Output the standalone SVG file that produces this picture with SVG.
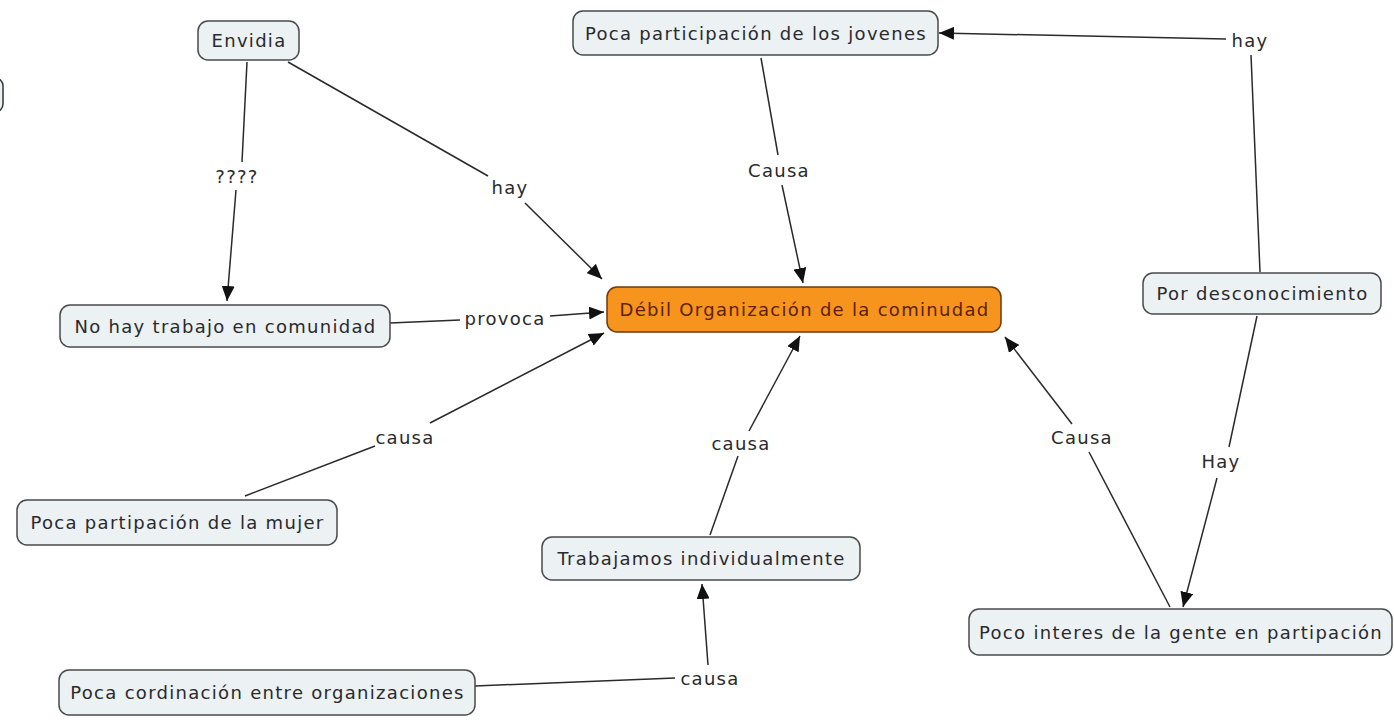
<svg xmlns="http://www.w3.org/2000/svg" width="1394" height="723" viewBox="0 0 1394 723">
<style>
.n rect{fill:#ecf1f4;stroke:#4a4a4a;stroke-width:1.5}
.n text,.l{font-family:"DejaVu Sans",Verdana,sans-serif;font-size:18px;letter-spacing:1.3px;fill:#2a2a2a;text-anchor:middle;dominant-baseline:central}
.c line{stroke:#2a2a2a;stroke-width:1.5;fill:none}
#n-debil rect{fill:#f7941d;stroke:#6b3a0a}
#n-debil text{fill:#5a2200}
</style>
<defs>
<marker id="a" viewBox="0 0 10 10" refX="10" refY="5" markerWidth="15" markerHeight="13" markerUnits="userSpaceOnUse" orient="auto" preserveAspectRatio="none"><path d="M0,0L10,5L0,10z" fill="#111"/></marker>
</defs>
<rect x="-100" y="78" width="103" height="34" rx="8" fill="#ecf1f4" stroke="#333" stroke-width="1.5"/>
<g class="c">
<line x1="247" y1="62" x2="242" y2="162"/><line x1="236" y1="190" x2="227" y2="301" marker-end="url(#a)"/>
<line x1="288" y1="62" x2="488" y2="176"/><line x1="525" y1="203" x2="602" y2="279" marker-end="url(#a)"/>
<line x1="390" y1="323" x2="460" y2="320"/><line x1="550" y1="316" x2="604" y2="312" marker-end="url(#a)"/>
<line x1="245" y1="496" x2="375" y2="446"/><line x1="430" y1="423" x2="604" y2="333" marker-end="url(#a)"/>
<line x1="761" y1="58" x2="778" y2="155"/><line x1="782" y1="185" x2="803" y2="283" marker-end="url(#a)"/>
<line x1="710" y1="535" x2="738" y2="456"/><line x1="749" y1="431" x2="800" y2="336" marker-end="url(#a)"/>
<line x1="475" y1="686" x2="675" y2="678"/><line x1="708" y1="665" x2="702" y2="584" marker-end="url(#a)"/>
<line x1="1260" y1="272" x2="1251" y2="55"/><line x1="1226" y1="39" x2="939" y2="33" marker-end="url(#a)"/>
<line x1="1257" y1="316" x2="1229" y2="447"/><line x1="1217" y1="478" x2="1183" y2="607" marker-end="url(#a)"/>
<line x1="1170" y1="607" x2="1089" y2="452"/><line x1="1072" y1="424" x2="1005" y2="337" marker-end="url(#a)"/>
</g>
<g id="labels">
<text class="l" x="237" y="176">????</text>
<text class="l" x="510" y="187">hay</text>
<text class="l" x="505" y="318">provoca</text>
<text class="l" x="405" y="437">causa</text>
<text class="l" x="779" y="170">Causa</text>
<text class="l" x="741" y="443">causa</text>
<text class="l" x="710" y="678">causa</text>
<text class="l" x="1250" y="40">hay</text>
<text class="l" x="1221" y="461">Hay</text>
<text class="l" x="1082" y="437">Causa</text>
</g>
<g id="n-envidia" class="n"><rect x="198" y="21" width="101" height="39" rx="10"/><text x="249" y="40.5">Envidia</text></g>
<g id="n-jovenes" class="n"><rect x="573" y="11" width="365" height="44" rx="10"/><text x="756" y="33">Poca participación de los jovenes</text></g>
<g id="n-nohay" class="n"><rect x="60" y="305" width="330" height="42" rx="10"/><text x="225.5" y="326">No hay trabajo en comunidad</text></g>
<g id="n-debil" class="n"><rect x="607" y="287" width="394" height="45" rx="10"/><text x="804.5" y="309.5">Débil Organización de la cominudad</text></g>
<g id="n-desc" class="n"><rect x="1143" y="273" width="238" height="41" rx="10"/><text x="1262.5" y="293.5">Por desconocimiento</text></g>
<g id="n-mujer" class="n"><rect x="17" y="500" width="320" height="45" rx="10"/><text x="177.5" y="522.5">Poca partipación de la mujer</text></g>
<g id="n-trab" class="n"><rect x="542" y="537" width="318" height="43" rx="10"/><text x="701.5" y="558.5">Trabajamos individualmente</text></g>
<g id="n-cord" class="n"><rect x="59" y="670" width="416" height="45" rx="10"/><text x="267.5" y="692.5">Poca cordinación entre organizaciones</text></g>
<g id="n-interes" class="n"><rect x="969" y="609" width="423" height="46" rx="10"/><text x="1181" y="632">Poco interes de la gente en partipación</text></g>
</svg>
